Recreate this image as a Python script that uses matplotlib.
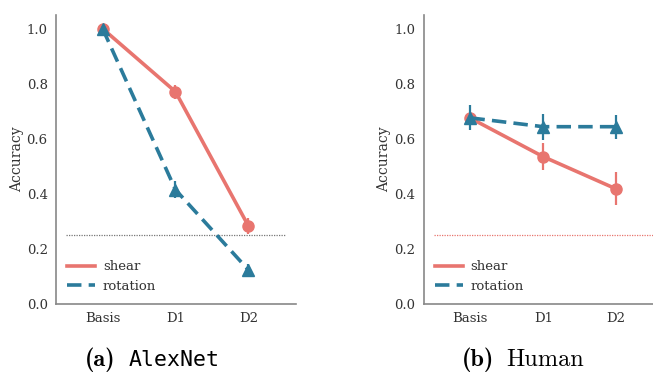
import matplotlib
matplotlib.use("Agg")
import matplotlib.pyplot as plt
import matplotlib.lines as mlines
import numpy as np

# ---------------- data ----------------
CATEGORIES = ["Basis", "D1", "D2"]

ALEX_SHEAR = [1.0, 0.771, 0.284]
ALEX_SHEAR_ERR = [0.008, 0.025, 0.03]
ALEX_ROT = [1.0, 0.415, 0.124]
ALEX_ROT_ERR = [0.008, 0.03, 0.02]

HUMAN_SHEAR = [0.675, 0.535, 0.418]
HUMAN_SHEAR_ERR = [0.02, 0.05, 0.06]
HUMAN_ROT = [0.676, 0.644, 0.644]
HUMAN_ROT_ERR = [0.045, 0.047, 0.044]

CHANCE = 0.25
YTICKS = [0.0, 0.2, 0.4, 0.6, 0.8, 1.0]

SHEAR_COLOR = "#e8756f"
ROT_COLOR = "#2b7b9b"

plt.rcParams["font.family"] = "DejaVu Serif"

fig = plt.figure(figsize=(6.53, 3.73), dpi=100)
ax_a = fig.add_axes([0.0858, 0.185, 0.367, 0.775])
ax_b = fig.add_axes([0.649, 0.185, 0.367, 0.775])


def draw_panel(ax, shear, shear_err, rot, rot_err, chance_color):
    x = np.arange(len(CATEGORIES))
    ax.plot([-0.5, 2.5], [CHANCE, CHANCE], color=chance_color,
            ls=(0, (1, 1)), lw=0.9, zorder=1)
    ax.errorbar(x, shear, yerr=shear_err, color=SHEAR_COLOR, lw=2.6,
                marker="o", markersize=8, elinewidth=1.6, capsize=0,
                zorder=3)
    ax.errorbar(x, rot, yerr=rot_err, color=ROT_COLOR, lw=2.6, ls="--",
                dashes=(4, 2), marker="^", markersize=8, elinewidth=1.6,
                capsize=0, zorder=4)

    ax.set_xlim(-0.64, 2.65)
    ax.set_ylim(0, 1.05)
    ax.set_xticks(x)
    ax.set_xticklabels(CATEGORIES)
    ax.set_yticks(YTICKS)
    ax.set_yticklabels([f"{t:.1f}" for t in YTICKS])
    ax.tick_params(length=0, labelsize=9.5, colors="#333333", pad=6)
    ax.set_ylabel("Accuracy", fontsize=10, color="#333333", labelpad=2)
    for side in ["top", "right"]:
        ax.spines[side].set_visible(False)
    for side in ["left", "bottom"]:
        ax.spines[side].set_color("#888888")
        ax.spines[side].set_linewidth(1.2)

    # legend shows lines only, no markers
    leg_lines = [
        mlines.Line2D([], [], color=SHEAR_COLOR, lw=2.6),
        mlines.Line2D([], [], color=ROT_COLOR, lw=2.6, ls="--", dashes=(4, 2)),
    ]
    leg = ax.legend(leg_lines, ["shear", "rotation"], loc="lower left",
                    frameon=False, fontsize=9.5, handlelength=2.1,
                    handletextpad=0.6, borderaxespad=0.45, labelspacing=0.5)
    for t in leg.get_texts():
        t.set_color("#333333")


draw_panel(ax_a, ALEX_SHEAR, ALEX_SHEAR_ERR, ALEX_ROT, ALEX_ROT_ERR, "#777777")
draw_panel(ax_b, HUMAN_SHEAR, HUMAN_SHEAR_ERR, HUMAN_ROT, HUMAN_ROT_ERR,
           SHEAR_COLOR)

# captions (Computer Modern fonts shipped with matplotlib)
fig.text(0.130, 0.018, "(a)", fontsize=17.5, family="cmb10", ha="left",
         va="baseline")
fig.text(0.197, 0.018, "AlexNet", fontsize=15.5, family="DejaVu Sans Mono",
         ha="left", va="baseline")
fig.text(0.707, 0.018, "(b)", fontsize=17.5, family="cmb10", ha="left",
         va="baseline")
fig.text(0.776, 0.018, "Human", fontsize=17.5, family="cmr10", ha="left",
         va="baseline")

fig.savefig("out.png", dpi=100)
